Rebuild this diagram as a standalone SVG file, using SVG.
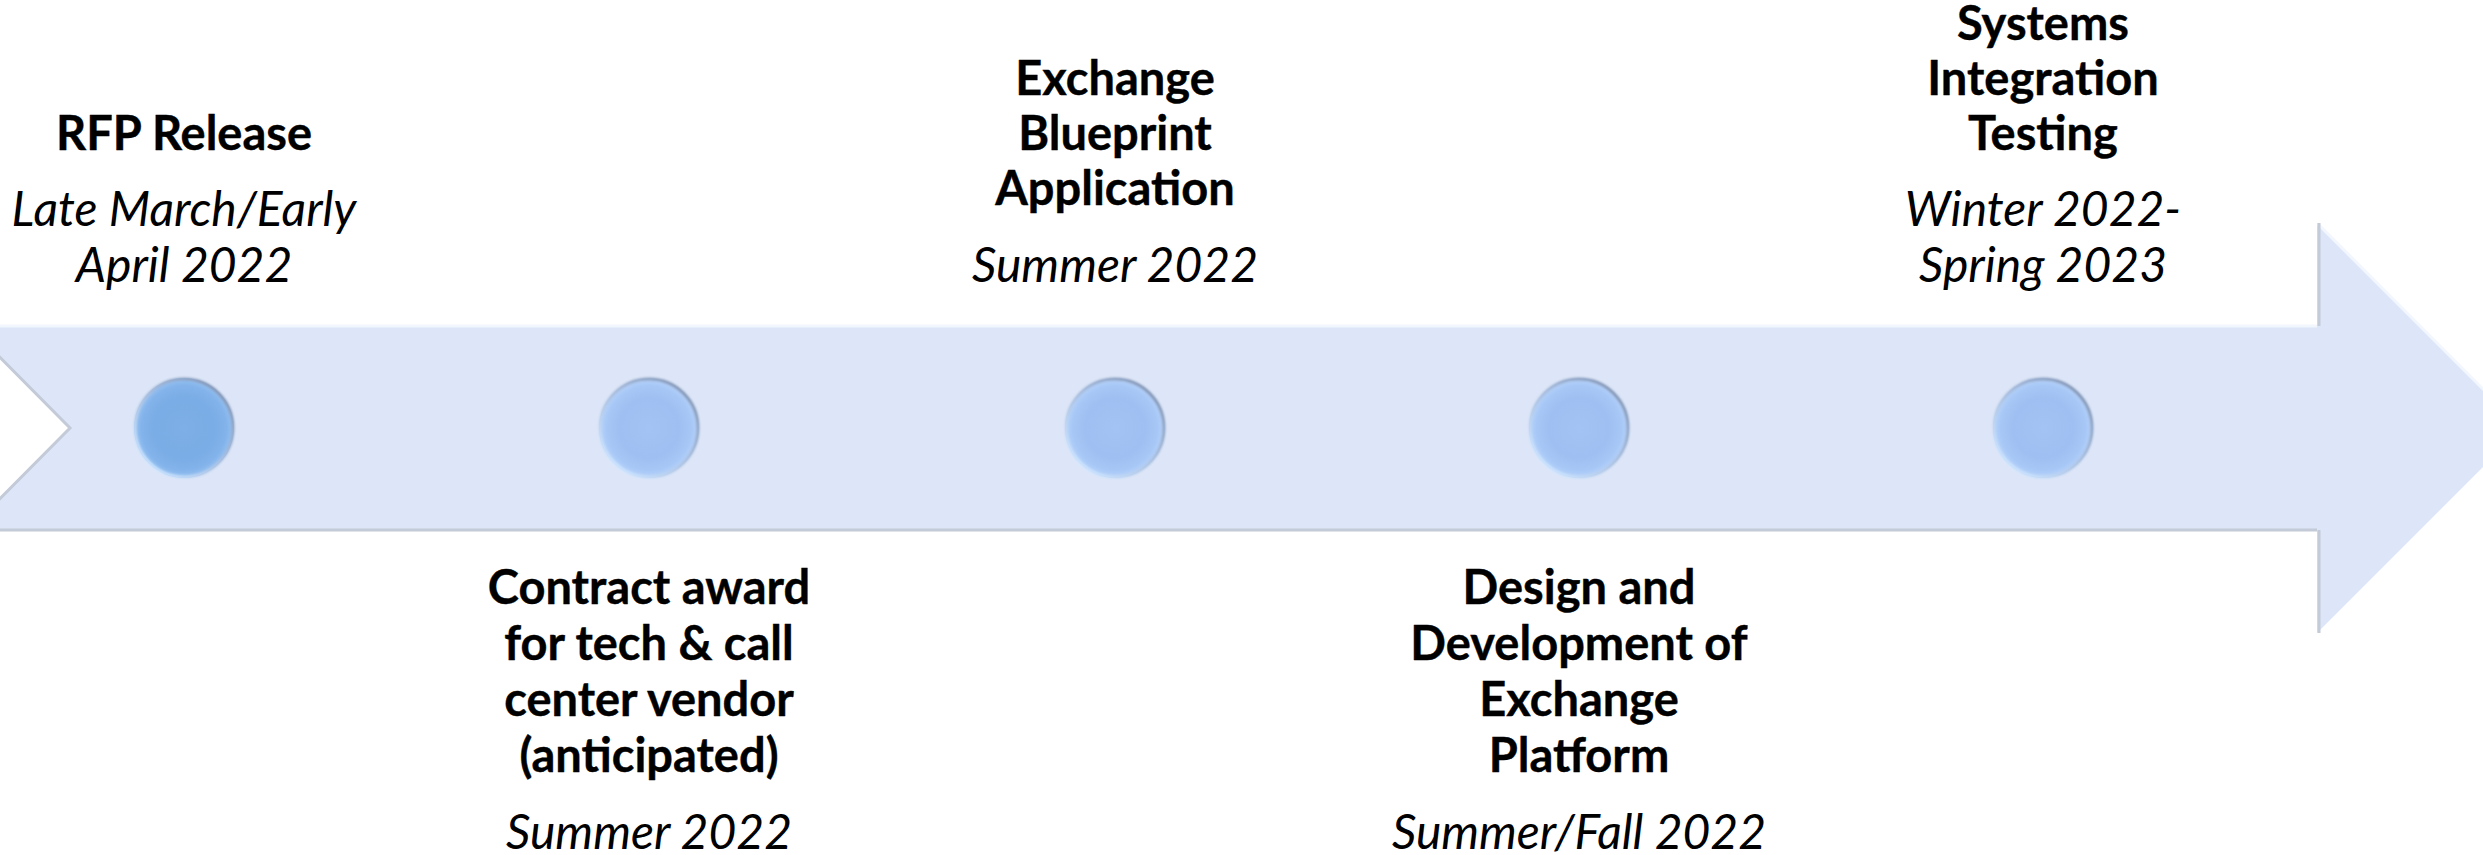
<svg xmlns="http://www.w3.org/2000/svg" width="2483" height="855" viewBox="0 0 2483 855">
  <style>
    .title { font-family: Lato, "Liberation Sans", sans-serif; font-weight: bold; font-size: 47px; fill: #000; stroke: #000; stroke-width: 0.4; text-anchor: middle; }
    .date { font-family: Lato, "Liberation Sans", sans-serif; font-style: italic; font-size: 48px; fill: #000; text-anchor: middle; }
    .edge-light { fill: none; stroke: #f2f6fd; stroke-width: 3; }
    .edge-dark { fill: none; stroke: #c3cad8; stroke-width: 3; }
  </style>
  <defs>
    <radialGradient id="dotFace" cx="0.5" cy="0.5" r="0.5">
      <stop offset="0" stop-color="#a3c3f4"/>
      <stop offset="0.6" stop-color="#9fbff2"/>
      <stop offset="0.85" stop-color="#a7c7f6"/>
      <stop offset="1" stop-color="#b8d4fa"/>
    </radialGradient>
    <radialGradient id="dotFaceFirst" cx="0.5" cy="0.5" r="0.5">
      <stop offset="0" stop-color="#7eafe6"/>
      <stop offset="0.6" stop-color="#7aace5"/>
      <stop offset="0.85" stop-color="#83b3ea"/>
      <stop offset="1" stop-color="#98c4f4"/>
    </radialGradient>
    <linearGradient id="dotRim" x1="0.85" y1="0.1" x2="0.15" y2="0.9">
      <stop offset="0" stop-color="#8496b4"/>
      <stop offset="0.45" stop-color="#a8bcdc"/>
      <stop offset="1" stop-color="#cfe6ff"/>
    </linearGradient>
    <filter id="soft" x="-10%" y="-10%" width="120%" height="120%">
      <feGaussianBlur stdDeviation="0.8"/>
    </filter>
    <g id="dot">
      <circle r="50" fill="url(#dotFace)"/>
      <circle r="49" fill="none" stroke="url(#dotRim)" stroke-width="3" filter="url(#soft)"/>
    </g>
    <g id="dotFirst">
      <circle r="50" fill="url(#dotFaceFirst)"/>
      <circle r="49" fill="none" stroke="url(#dotRim)" stroke-width="3" filter="url(#soft)"/>
    </g>
  </defs>

  <rect width="2483" height="855" fill="#ffffff"/>

  <!-- timeline arrow -->
  <g id="timeline">
    <path d="M -31 326 H 2317 V 223 L 2522 428 L 2317 633 V 530 H -31 L 70 428 Z" fill="#dde6f8"/>
    <path class="edge-light" d="M -31 326 H 2317 M 2318 224 L 2522 428"/>
    <path class="edge-dark" d="M -31 530 H 2317 M 2319 223 V 326 M 2319 530 V 633 M -31 326 L 70 428 L -31 530"/>
  </g>

  <!-- milestone markers -->
  <g id="markers">
    <use href="#dotFirst" x="184" y="428"/>
    <use href="#dot" x="649" y="428"/>
    <use href="#dot" x="1115" y="428"/>
    <use href="#dot" x="1579" y="428"/>
    <use href="#dot" x="2043" y="428"/>
  </g>

  <g id="m1-rfp">
    <text class="title" x="184" y="150">RFP Release</text>
    <text class="date" x="184" y="226">Late March/Early</text>
    <text class="date" x="184" y="282">April 2022</text>
  </g>

  <g id="m2-contract">
    <text class="title" x="649" y="604">Contract award</text>
    <text class="title" x="649" y="660">for tech &amp; call</text>
    <text class="title" x="649" y="716">center vendor</text>
    <text class="title" x="649" y="772">(anticipated)</text>
    <text class="date" x="649" y="849">Summer 2022</text>
  </g>

  <g id="m3-blueprint">
    <text class="title" x="1115" y="95">Exchange</text>
    <text class="title" x="1115" y="150">Blueprint</text>
    <text class="title" x="1115" y="205">Application</text>
    <text class="date" x="1115" y="282">Summer 2022</text>
  </g>

  <g id="m4-design">
    <text class="title" x="1579" y="604">Design and</text>
    <text class="title" x="1579" y="660">Development of</text>
    <text class="title" x="1579" y="716">Exchange</text>
    <text class="title" x="1579" y="772">Platform</text>
    <text class="date" x="1579" y="849">Summer/Fall 2022</text>
  </g>

  <g id="m5-testing">
    <text class="title" x="2043" y="40">Systems</text>
    <text class="title" x="2043" y="95">Integration</text>
    <text class="title" x="2043" y="150">Testing</text>
    <text class="date" x="2043" y="226">Winter 2022-</text>
    <text class="date" x="2043" y="282">Spring 2023</text>
  </g>
</svg>
